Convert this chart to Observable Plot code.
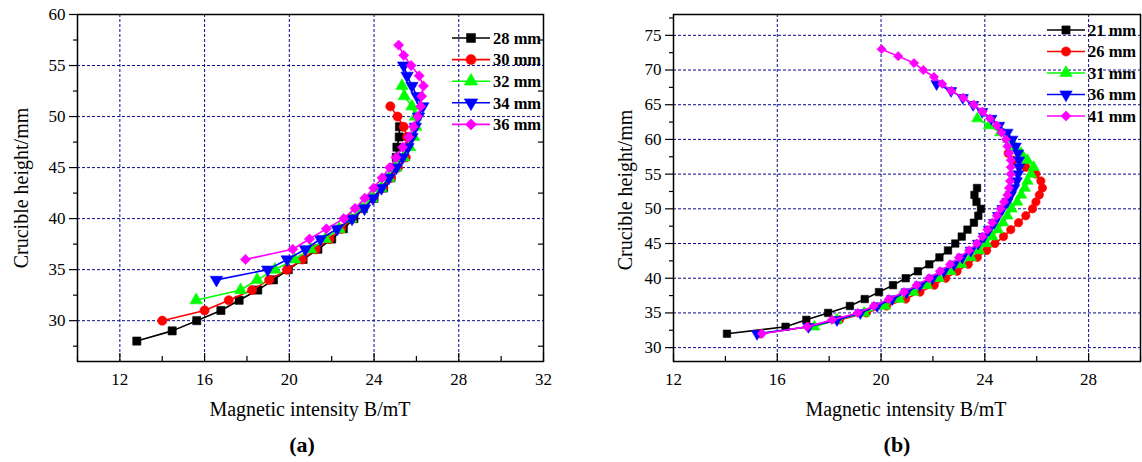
<!DOCTYPE html>
<html><head><meta charset="utf-8">
<script src="https://cdn.jsdelivr.net/npm/d3@7"></script>
<script src="https://cdn.jsdelivr.net/npm/@observablehq/plot@0.6"></script>
<style>
html,body{margin:0;padding:0;background:#fff;}
#root{position:relative;width:1142px;height:462px;overflow:hidden;font-family:"Liberation Serif","Times New Roman",serif;color:#000;}
#root > div.plot{position:absolute;top:0;}
.ylab{position:absolute;font-size:20px;transform:translate(-50%,-50%) rotate(-90deg);white-space:nowrap;}
.xlab{position:absolute;font-size:20px;transform:translate(-50%,-50%);white-space:nowrap;}
.tag{position:absolute;font-size:22px;font-weight:bold;transform:translate(-50%,-50%);white-space:nowrap;}
svg.overlay{position:absolute;left:0;top:0;pointer-events:none;}
</style></head><body><div id="root"></div>
<script>
// ---------- Panel (a) data ----------
const namesA = ["28 mm", "30 mm", "32 mm", "34 mm", "36 mm"];
const hA28 = [28,29,30,31,32,33,34,35,36,37,38,39,40,41,42,43,44,45,46,47,48,49];
const bA28 = [12.8,14.47,15.63,16.77,17.63,18.51,19.25,19.95,20.65,21.35,22.0,22.55,23.05,23.5,24.0,24.45,24.8,24.95,25.05,25.08,25.19,25.2];
const hA30 = [30,31,32,33,34,35,36,37,38,39,40,41,42,43,44,45,46,47,48,49,50,51];
const bA30 = [14.0,16.0,17.14,18.24,19.05,19.9,20.6,21.25,21.9,22.45,22.95,23.45,23.95,24.4,24.8,25.13,25.5,25.56,25.56,25.4,25.11,24.77];
const hA32 = [32,33,34,35,36,37,38,39,40,41,42,43,44,45,46,47,48,49,50,51,52,53];
const bA32 = [15.6,17.7,18.48,19.32,20.25,21.0,21.7,22.35,22.9,23.42,23.9,24.33,24.7,25.02,25.4,25.68,25.87,25.97,25.95,25.79,25.43,25.32];
const hA34 = [34,35,36,37,38,39,40,41,42,43,44,45,46,47,48,49,50,51,52,53,54,55];
const bA34 = [16.56,18.98,19.9,20.76,21.47,22.25,22.96,23.55,23.95,24.35,24.7,25.05,25.35,25.6,25.79,25.95,26.1,26.3,26.03,25.79,25.56,25.4];
const hA36 = [36,37,38,39,40,41,42,43,44,45,46,47,48,49,50,51,52,53,54,55,56,57];
const bA36 = [17.93,20.16,20.95,21.75,22.57,23.1,23.56,23.98,24.38,24.74,25.04,25.35,25.65,25.86,26.06,26.2,26.25,26.33,26.13,25.75,25.4,25.16];

// ---------- Panel (b) data ----------
const namesB = ["21 mm", "26 mm", "31 mm", "36 mm", "41 mm"];
const hB21 = [32,33,34,35,36,37,38,39,40,41,42,43,44,45,46,47,48,49,50,51,52,53];
const bB21 = [14.06,16.32,17.12,17.96,18.8,19.37,19.92,20.46,20.95,21.42,21.86,22.25,22.58,22.86,23.11,23.33,23.58,23.75,23.85,23.68,23.6,23.7];
const hB26 = [32,33,34,35,36,37,38,39,40,41,42,43,44,45,46,47,48,49,50,51,52,53,54,55,56,57,58];
const bB26 = [15.35,17.2,18.4,19.43,20.21,20.95,21.5,22.05,22.49,22.93,23.36,23.71,24.07,24.39,24.72,25.0,25.3,25.58,25.84,25.97,26.1,26.22,26.16,25.97,25.58,25.1,24.9];
const hB31 = [33,34,35,36,37,38,39,40,41,42,43,44,45,46,47,48,49,50,51,52,53,54,55,56,57,58,59,60,61,62,63];
const bB31 = [17.43,18.3,19.35,20.15,20.7,21.25,21.77,22.23,22.68,23.1,23.46,23.78,24.05,24.29,24.5,24.7,24.87,25.03,25.25,25.4,25.54,25.64,25.78,25.88,25.64,25.4,25.15,24.9,24.6,24.16,23.71];
const hB36 = [32,33,34,35,36,37,38,39,40,41,42,43,44,45,46,47,48,49,50,51,52,53,54,55,56,57,58,59,60,61,62,63,64,65,66,67,68];
const bB36 = [15.22,17.2,18.3,19.2,19.85,20.43,20.98,21.5,21.98,22.42,22.81,23.13,23.46,23.74,23.97,24.16,24.36,24.51,24.68,24.87,25.0,25.13,25.23,25.28,25.32,25.32,25.28,25.19,25.06,24.87,24.55,24.25,23.9,23.55,23.15,22.7,22.14];
const hB41 = [32,33,34,35,36,37,38,39,40,41,42,43,44,45,46,47,48,49,50,51,52,53,54,55,56,57,58,59,60,61,62,63,64,65,66,67,68,69,70,71,72,73];
const bB41 = [15.41,17.15,18.11,19.1,19.72,20.3,20.88,21.37,21.85,22.27,22.66,23.0,23.39,23.69,23.91,24.1,24.29,24.46,24.61,24.74,24.87,24.93,24.97,25.0,25.0,25.0,24.93,24.87,24.81,24.64,24.46,24.2,23.91,23.58,23.17,22.71,22.36,22.04,21.63,21.27,20.66,20.02];

// ---------- Ticks ----------
const xTickLabelsA = [12,16,20,24,28,32];
const xGridA = [12,16,20,24,28];
const xMinorA = [10,14,18,22,26,30];
const yTickLabelsA = [30,35,40,45,50,55,60];
const yGridA = [30,35,40,45,50,55];
const yMinorA = [27.5,32.5,37.5,42.5,47.5,52.5,57.5];

const xTickLabelsB = [12,16,20,24,28];
const xGridB = [16,20,24,28];
const xMinorB = [14,18,22,26,30];
const yTickLabelsB = [30,35,40,45,50,55,60,65,70,75];
const yGridB = [30,35,40,45,50,55,60,65,70,75];
const yMinorB = [32.5,37.5,42.5,47.5,52.5,57.5,62.5,67.5,72.5,77.5];

const colors = ["#000000", "#ff0000", "#00ff00", "#0000ff", "#ff00ff"];
const triDown = {draw(ctx, size) {
  const s = Math.sqrt(size / (Math.sqrt(3) / 4)), h = s * Math.sqrt(3) / 2;
  ctx.moveTo(-s / 2, -h / 3); ctx.lineTo(s / 2, -h / 3); ctx.lineTo(0, 2 * h / 3); ctx.closePath();
}};
const symbols = [d3.symbolSquare, d3.symbolCircle, d3.symbolTriangle, triDown, d3.symbolDiamond2];

const toRows = (hs, bs) => hs.map((h, i) => ({h, B: bs[i]}));
const seriesA = [toRows(hA28,bA28), toRows(hA30,bA30), toRows(hA32,bA32), toRows(hA34,bA34), toRows(hA36,bA36)];
const seriesB = [toRows(hB21,bB21), toRows(hB26,bB26), toRows(hB31,bB31), toRows(hB36,bB36), toRows(hB41,bB41)];

const MT = 14, FRAME_BOTTOM = 361, H = 400;
const gridStyle = {stroke: "#0a0a90", strokeOpacity: 1, strokeDasharray: "3,2", strokeWidth: 1};

function panel(o) {
  const fh = FRAME_BOTTOM - MT;
  const fw = o.width - o.ml - o.mr;
  const marks = [
    Plot.gridX(o.xGrid, gridStyle),
    Plot.gridY(o.yGrid, gridStyle)
  ];
  o.series.forEach((rows, i) => {
    marks.push(Plot.line(rows, {x: "B", y: "h", stroke: colors[i], strokeWidth: 1.6}));
    marks.push(Plot.dot(rows, {x: "B", y: "h", symbol: symbols[i], r: o.r, fill: colors[i], stroke: colors[i], strokeWidth: 0.6}));
  });
  marks.push(
    Plot.frame({stroke: "#000", strokeWidth: 1.5}),
    Plot.axisY(o.yLabels, {tickSize: 8, tickPadding: 4, label: null, strokeWidth: 1.2}),
    Plot.axisY(o.yMinor, {tickSize: 4, tickFormat: () => "", label: null, strokeWidth: 1.2}),
    Plot.axisX(o.xLabels, {tickSize: 0, tickPadding: 11, label: null}),
    Plot.tickX(o.xLabels, {x: d => d, insetTop: fh - 8, stroke: "#000", strokeWidth: 1.2}),
    Plot.tickX(o.xMinor, {x: d => d, insetTop: fh - 5, stroke: "#000", strokeWidth: 1.2})
  );
  if (o.rightTicks) {
    marks.push(Plot.tickY(o.yMinor, {y: d => d, insetLeft: fw - 5, stroke: "#000", strokeWidth: 1.2}));
  }
  const p = Plot.plot({
    width: o.width, height: H,
    marginLeft: o.ml, marginRight: o.mr, marginTop: MT, marginBottom: H - FRAME_BOTTOM,
    x: {domain: o.xDomain, axis: null, label: null},
    y: {domain: o.yDomain, axis: null, label: null},
    style: {fontFamily: "Liberation Serif, Times New Roman, serif", fontSize: "17px", color: "#000", background: "transparent", overflow: "visible"},
    marks
  });
  const wrap = document.createElement("div");
  wrap.className = "plot";
  wrap.style.left = o.left + "px";
  wrap.appendChild(p);
  return wrap;
}

const root = document.getElementById("root");
root.appendChild(panel({left: 0, width: 570, ml: 77, mr: 27, xDomain: [10, 32], yDomain: [26, 60],
  xLabels: xTickLabelsA, xGrid: xGridA, xMinor: xMinorA, yLabels: yTickLabelsA, yGrid: yGridA, yMinor: yMinorA,
  series: seriesA, r: 4.6, rightTicks: true}));
root.appendChild(panel({left: 590, width: 552, ml: 83, mr: 2, xDomain: [12, 30], yDomain: [28, 78],
  xLabels: xTickLabelsB, xGrid: xGridB, xMinor: xMinorB, yLabels: yTickLabelsB, yGrid: yGridB, yMinor: yMinorB,
  series: seriesB, r: 4.2, rightTicks: false}));

function addText(cls, txt, x, y) {
  const d = document.createElement("div");
  d.className = cls; d.textContent = txt;
  d.style.left = x + "px"; d.style.top = y + "px";
  root.appendChild(d);
}
addText("ylab", "Crucible height/mm", 21, 188);
addText("ylab", "Crucible height/mm", 625, 190);
addText("xlab", "Magnetic intensity B/mT", 310, 409);
addText("xlab", "Magnetic intensity B/mT", 906, 409);
addText("tag", "(a)", 302, 445);
addText("tag", "(b)", 897, 445);

// ---------- Legends ----------
const ov = d3.select(root).append("svg").attr("class", "overlay").attr("width", 1142).attr("height", 462);
function legend(names, x0, y0, dy, r) {
  names.forEach((name, i) => {
    const y = y0 + i * dy;
    const g = ov.append("g");
    g.append("line").attr("x1", x0).attr("x2", x0 + 38).attr("y1", y).attr("y2", y)
      .attr("stroke", colors[i]).attr("stroke-width", 1.6);
    g.append("path").attr("d", d3.symbol(symbols[i], Math.PI * r * r)())
      .attr("transform", `translate(${x0 + 19},${y})`).attr("fill", colors[i]).attr("stroke", colors[i]).attr("stroke-width", 0.6);
    g.append("text").attr("x", x0 + 41).attr("y", y).attr("dy", "0.35em")
      .attr("font-family", "Liberation Serif, Times New Roman, serif").attr("font-weight", "bold").attr("font-size", 16.5)
      .text(name);
  });
}
legend(namesA, 452, 38, 21.6, 5.0);
legend(namesB, 1047, 30, 21.5, 4.6);
</script></body></html>
